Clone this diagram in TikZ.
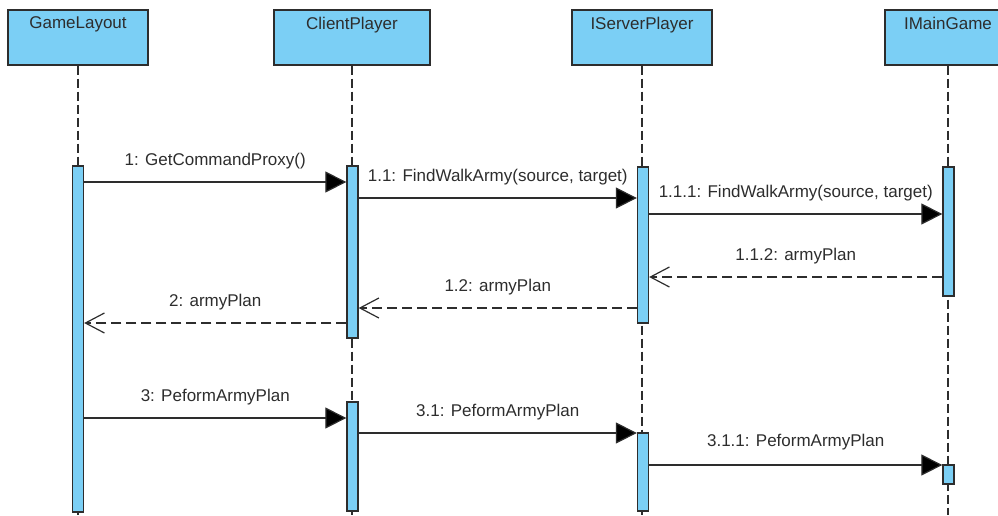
\documentclass[tikz,border=0pt]{standalone}
\usepackage{fontspec}
\setmainfont{Liberation Sans}
\usetikzlibrary{arrows.meta}
\definecolor{barblue}{RGB}{123,207,245}
\definecolor{ink}{RGB}{45,45,45}
\begin{document}
\begin{tikzpicture}[x=1pt,y=-1pt,
  every node/.style={font=\fontsize{17}{20}\selectfont, text=ink},
  head/.style={draw=ink, fill=barblue, line width=1.3pt, minimum width=140pt,
    minimum height=55pt, inner sep=0pt, label={[anchor=north, yshift=-4pt]north:#1}},
  bar/.style={draw=ink, fill=barblue, line width=1.3pt, minimum width=11pt, inner sep=0pt},
  lifeline/.style={draw=ink, line width=1.2pt, dash pattern=on 9pt off 4pt},
  call/.style={draw=ink, line width=1.2pt, -{Triangle[length=21pt,width=21pt,fill=black]}},
  reply/.style={draw=ink, line width=1.2pt, dash pattern=on 10pt off 5pt,
    -{Straight Barb[length=19pt,width=20pt]}},
  msg/.style={midway, yshift=21pt}
]
\useasboundingbox (0,0) rectangle (998,515);

% participants
\node[head=GameLayout] (gl) at (78,37.5) {};
\node[head=ClientPlayer, minimum width=156pt] (cp) at (352,37.5) {};
\node[head=IServerPlayer] (sp) at (642,37.5) {};
\node[head=IMainGame, minimum width=126pt] (mg) at (948,37.5) {};

% lifelines
\coordinate (floor) at (0,515);
\draw[lifeline] (gl.south) -- (gl.south |- floor);
\draw[lifeline] (cp.south) -- (cp.south |- floor);
\draw[lifeline] (sp.south) -- (sp.south |- floor);
\draw[lifeline] (mg.south) -- (mg.south |- floor);

% activation bars
\node[bar, minimum height=346pt] (gl1) at (78,339) {};
\node[bar, minimum height=172pt] (cp1) at (352.5,252) {};
\node[bar, minimum height=109pt] (cp2) at (352.5,456.5) {};
\node[bar, minimum height=156pt] (sp1) at (643,245) {};
\node[bar, minimum height=78pt] (sp2) at (643,472) {};
\node[bar, minimum height=129pt] (mg1) at (948.5,231.5) {};
\node[bar, minimum height=19pt] (mg2) at (948.5,474.5) {};

% message rows
\coordinate (m1) at (0,182);
\coordinate (m11) at (0,198);
\coordinate (m111) at (0,214);
\coordinate (m112) at (0,277);
\coordinate (m12) at (0,308);
\coordinate (m2) at (0,323);
\coordinate (m3) at (0,418);
\coordinate (m31) at (0,433);
\coordinate (m311) at (0,465);

% messages
\draw[call] (gl1.east |- m1) -- node[msg]{1: GetCommandProxy()} (cp1.west |- m1);
\draw[call] (cp1.east |- m11) -- node[msg]{1.1: FindWalkArmy(source, target)} (sp1.west |- m11);
\draw[call] (sp1.east |- m111) -- node[msg]{1.1.1: FindWalkArmy(source, target)} (mg1.west |- m111);
\draw[reply] (mg1.west |- m112) -- node[msg]{1.1.2: armyPlan} (sp1.east |- m112);
\draw[reply] (sp1.west |- m12) -- node[msg]{1.2: armyPlan} (cp1.east |- m12);
\draw[reply] (cp1.west |- m2) -- node[msg]{2: armyPlan} (gl1.east |- m2);
\draw[call] (gl1.east |- m3) -- node[msg]{3: PeformArmyPlan} (cp2.west |- m3);
\draw[call] (cp2.east |- m31) -- node[msg]{3.1: PeformArmyPlan} (sp2.west |- m31);
\draw[call] (sp2.east |- m311) -- node[msg, yshift=2pt]{3.1.1: PeformArmyPlan} (mg2.west |- m311);
\end{tikzpicture}
\end{document}
